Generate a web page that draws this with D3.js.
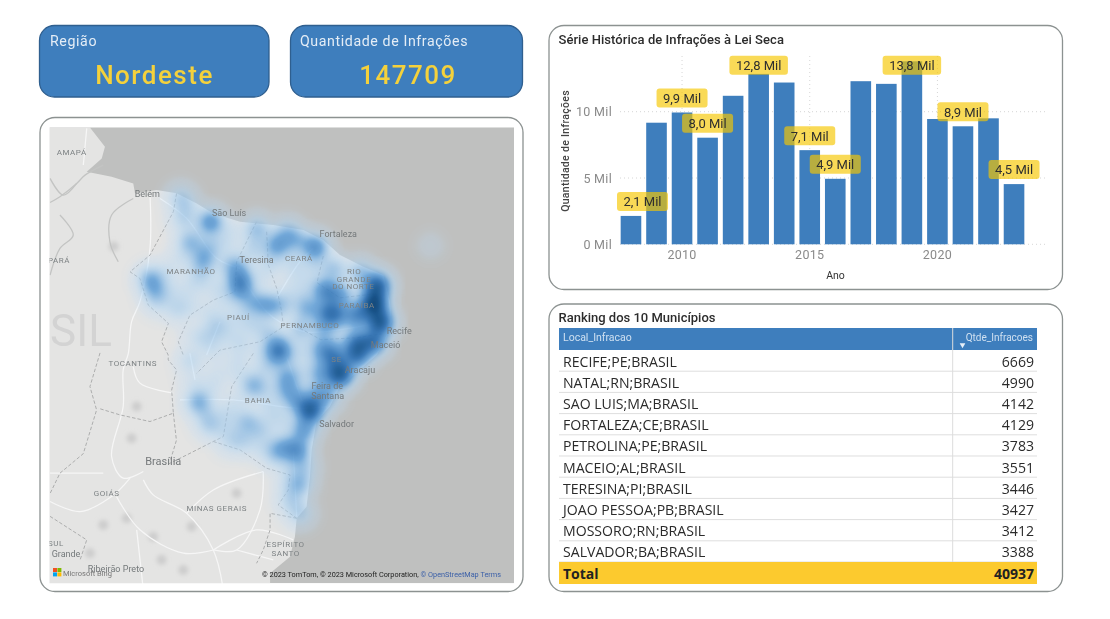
<!DOCTYPE html>
<html><head><meta charset="utf-8">
<script src="https://cdn.jsdelivr.net/npm/d3@7/dist/d3.min.js"></script>
<style>html,body{margin:0;padding:0;background:#fff;overflow:hidden}svg{display:block;filter:blur(.35px)}</style>
</head><body>
<svg id="s" width="1110" height="619"></svg>
<script>
// ---------- DATA ----------
const years=[2008,2009,2010,2011,2012,2013,2014,2015,2016,2017,2018,2019,2020,2021,2022,2023];
const infractions=[2.14,9.17,9.94,8.04,11.2,12.85,12.2,7.1,4.94,12.3,12.1,13.8,9.45,8.9,9.5,4.54];
const labelledYears=[2008,2010,2011,2013,2015,2016,2019,2021,2023];
const yTicks=[0,5,10];
const xTicks=[2010,2015,2020];
const tableHeader=["Local_Infracao","Qtde_Infracoes"];
const places=["RECIFE;PE;BRASIL","NATAL;RN;BRASIL","SAO LUIS;MA;BRASIL","FORTALEZA;CE;BRASIL","PETROLINA;PE;BRASIL","MACEIO;AL;BRASIL","TERESINA;PI;BRASIL","JOAO PESSOA;PB;BRASIL","MOSSORO;RN;BRASIL","SALVADOR;BA;BRASIL"];
const counts=[6669,4990,4142,4129,3783,3551,3446,3427,3412,3388];
const totalCount=40937;
const region="Nordeste";
const totalInfractions=147709;

// geography, [lon,lat]
const coast=[[-50.75,2.37],[-49.96,1.35],[-50.13,0.74],[-50.92,0.04],[-49.61,-0.23],[-48.47,-0.58],[-48.38,-1.1],[-47.24,-0.93],[-46.19,-1.1],[-45.13,-1.63],[-44.26,-2.16],[-42.85,-2.59],[-41.1,-2.77],[-39.52,-3.03],[-38.47,-3.56],[-37.59,-4.35],[-36.36,-4.96],[-35.31,-5.4],[-34.96,-6.8],[-34.87,-7.86],[-35.22,-8.91],[-35.66,-9.61],[-36.54,-10.39],[-37.59,-11.27],[-38.12,-12.32],[-38.82,-13.11],[-39.08,-14.6],[-39.17,-16.01],[-39.35,-17.59],[-39.87,-18.2],[-39.96,-19.16],[-40.22,-20.22],[-41.27,-21.09],[-41.27,-21.97],[-41.27,-25],[-60,-25],[-60,2.37]];
const borders=[
[[-46.19,-1.1],[-46.36,-2.07],[-47.59,-4.35],[-48.64,-5.23],[-48.12,-5.58],[-47.68,-6.98],[-46.62,-7.94],[-46.98,-8.91],[-46.63,-9.61],[-46.63,-9.87],[-46.19,-10.39],[-46.45,-11.45],[-46.36,-12.67],[-47.59,-13.11],[-49.17,-12.76],[-50.31,-12.41]],
[[-41.98,-2.59],[-43.03,-4.7],[-43.12,-6.28],[-44.26,-6.72],[-45.49,-7.51],[-46.1,-8.91],[-45.84,-9.61]],
[[-41.45,-3.12],[-41.36,-4.87],[-40.92,-6.1],[-40.66,-7.33],[-40.57,-8.12],[-41.8,-8.91],[-43.91,-9.35],[-45.13,-10.57]],
[[-42.15,-9.52],[-43.29,-11.27],[-43.73,-13.9],[-44.26,-14.16],[-45.66,-14.87],[-46.71,-15.39]],
[[-44.26,-14.16],[-42.85,-14.6],[-41.45,-15.57],[-40.22,-15.92],[-40.31,-16.71],[-40.84,-17.5],[-39.87,-18.2]],
[[-38.47,-4.4],[-38.8,-5.8],[-37.6,-6.6],[-35.8,-6.4]],
[[-39.7,-8.2],[-38.6,-8.8],[-36.7,-8.7],[-35.4,-8.5]],
[[-39.87,-18.2],[-41.27,-17.94],[-41.27,-18.81],[-41.63,-19.87],[-41.98,-20.57]],
[[-50.22,-9.5],[-50.75,-11.27],[-50.4,-12.5],[-51.1,-14.8],[-52.33,-15.83],[-52.85,-16.9]],
[[-52.85,-18.1],[-50.92,-19.34],[-51.27,-20.4]],
[[-46.36,-12.67],[-46.2,-14.1],[-46.5,-15.1]]
];
const roads=[
[[-47.59,-1.19],[-47.59,-3.98],[-48.12,-6.8],[-48.56,-7.86],[-48.73,-9.52],[-49,-10.39],[-49,-12.32],[-49.61,-14.95],[-49,-16.09],[-47.94,-15.74]],
[[-52.85,-17.32],[-51.27,-17.85],[-49.61,-17.06],[-48.64,-16.09]],
[[-47.94,-16.18],[-47.42,-16.97],[-45.66,-17.94],[-44.26,-19.87],[-43.73,-21.97]],
[[-45.66,-17.94],[-44.26,-16.71],[-41.63,-15.74]],
[[-41.63,-15.74],[-41.8,-17.76],[-43.03,-19.87],[-44.26,-19.87]],
[[-44.26,-19.87],[-45.84,-20.04],[-48.12,-18.81],[-49.35,-17.06]],
[[-48.29,-18.81],[-47.94,-21.97]],
[[-44.26,-19.87],[-41.98,-18.81],[-40.05,-19.34]],
[[-43.03,-19.87],[-41.1,-20.39]],
[[-40.05,-14.6],[-39.87,-18.11]],
[[-47.06,-1.37],[-45.66,-2.42],[-44.08,-4.52],[-42.85,-5.05]],
[[-43.03,-5.05],[-41.45,-7.33],[-40.7,-7.9],[-39.3,-8.4],[-35.5,-7.9]],
[[-39,-3.99],[-39.7,-4.7],[-40.92,-6.63]],
[[-46.01,-11.97],[-43.2,-11.97],[-39.87,-12.41],[-38.29,-12.32]],
[[-45.49,-9.52],[-45.22,-10.92]],
[[-44.61,-9.61],[-43.91,-7.86]],
[[-40.4,-9.7],[-39.5,-12.3]],
[[-48.47,-10.22],[-48.12,-11.09],[-46.36,-11.62]],
[[-52.85,-15.83],[-50.05,-15.83]],
[[-50.92,2.32],[-51.1,0.39]]
];
const waters=[
[[-52.85,-1.58],[-52.33,-1.28],[-51.45,-0.58],[-51.01,-0.14],[-50.05,0.39]],
[[-52.85,-0.31],[-52.15,-1.19],[-51.45,-0.58]],
[[-48.47,-1.37],[-49.61,-2.24],[-49.7,-3.65],[-49.26,-4.7]],
[[-52.33,-2.24],[-51.63,-3.3],[-52.33,-4],[-52.85,-5.4]]
];
const terrainLons=[-48.56,-48.29,-48.82,-47.42,-45.4,-45.84,-43.03,-50.05,-50.75,-46.98,-49.5];
const terrainLats=[-13.99,-12.32,-18.2,-19.17,-18.64,-20.92,-16.88,-18.55,-20.04,-20.39,-3.9];

// heat points: lon, lat, weight
const heatPoints=[
[-44.43,-2.59,.9],[-46.01,-1.28,.3],[-45.66,-1.72,.2],[-45.49,-3.65,.55],[-44.78,-4.52,.6],[-44.43,-3.82,.3],[-45.84,-2.42,.3],[-43.38,-3.12,.15],[-47.59,-5.58,.6],[-47.33,-6.19,.45],[-42.85,-5.58,.7],[-42.85,-6.1,.7],[-43.12,-4.87,.5],[-41.98,-2.95,.5],[-40.92,-3.82,.75],[-40.4,-3.12,.45],[-39.87,-3.56,.45],[-38.91,-3.91,.95],[-42.15,-3.96,.3],[-41.27,-4.7,.2],[-40.05,-4.7,.2],[-39,-4.88,.2],[-37.94,-5.05,.45],[-36.54,-5.23,.5],[-38.38,-6.19,.95],[-38.29,-7.33,.85],[-39.34,-7.16,.55],[-37.59,-6.45,.7],[-35.66,-5.93,1.6],[-35.84,-6.89,2],[-35.49,-7.86,1.7],[-36.71,-7.51,1],[-37.77,-7.51,.8],[-36.71,-8.91,1],[-35.84,-8.91,1.2],[-41.45,-6.98,.6],[-42.15,-6.81,.4],[-40.75,-6.98,.4],[-44.08,-8.03,.3],[-44.61,-8.73,.25],[-46.19,-7.16,.25],[-47.24,-6.8,.2],[-46.71,-5.23,.15],[-45.66,-6.1,.12],[-44.96,-5.23,.25],[-43.56,-6.63,.15],[-44.08,-6.1,.15],[-40.84,-9.26,.7],[-42.85,-8.91,.2],[-41.45,-8.38,.25],[-39.7,-8.21,.4],[-38.47,-8.21,.5],[-38.47,-9.26,.7],[-45.31,-8.56,.12],[-42.5,-7.86,.15],
[-37.59,-10.57,1.7],[-36.71,-9.6,1.2],[-37.94,-9.69,.9],[-39.17,-12.5,1.6],[-38.64,-10.57,.6],[-40.4,-10.74,.6],[-40.4,-11.45,.5],[-40.84,-9.52,.6],[-42.15,-11.18,.6],[-45.05,-12.06,.65],[-42.5,-13.11,.45],[-44.43,-13.29,.3],[-41.8,-13.55,.3],[-39.87,-14.6,.85],[-39.52,-13.55,.75],[-40.57,-14.43,.5],[-42.85,-14.08,.3],[-39.52,-15.48,.35],[-39.7,-16.36,.4],[-40.22,-17.23,.3],[-39.7,-17.94,.35],[-45.49,-9.87,.25],[-44.08,-10.57,.12],[-41.45,-10.22,.25],[-39.87,-11.97,.6],[-38.82,-11.62,.45],[-38.29,-11.8,.5],[-41.27,-12.32,.2],[-44.61,-12.85,.2],[-43.56,-12.67,.2],[-41.1,-14.6,.3],[-43.56,-13.55,.15],[-32.85,-3.82,.07],
[-46,-4.5,.13],[-45,-5.8,.13],[-46.5,-6.3,.13],[-45.5,-7,.13],[-44.5,-7.3,.13],[-43.5,-5,.13],[-43.7,-3.8,.13],[-42.5,-7,.13],[-43.2,-7.6,.13],[-43.6,-8.5,.13],[-42,-8,.13],[-41.8,-9.4,.13],[-43,-9.8,.13],[-44.2,-9.4,.13],[-40,-5.5,.13],[-39.3,-5.8,.13],[-40.2,-6.4,.13],[-39.5,-6.6,.13],[-41.6,-5.4,.13],[-43,-10.5,.13],[-44.3,-11.3,.13],[-45.3,-11,.13],[-41.5,-11.5,.13],[-43,-12,.13],[-41,-13,.13],[-40.5,-13,.13],[-43.5,-14.2,.13],[-42,-14.4,.13],[-41,-15,.13],[-40.3,-15.5,.13],[-39.9,-16.5,.13],[-40.3,-16.3,.13],[-39,-9.8,.13],[-39.5,-9.1,.13],[-37.5,-9,.13],[-41,-8.8,.13],[-40,-9.7,.13],[-39.7,-10.6,.13],[-38,-11,.13]
];
const stateLabels=[["AMAPÁ",-51.71,1.09],["PARÁ",-52.38,-4.59],["MARANHÃO",-45.43,-5.19],["CEARÁ",-39.75,-4.49],["RIO",-36.84,-5.19],["GRANDE",-36.85,-5.61],["DO NORTE",-36.89,-6.0],["PARAÍBA",-36.71,-6.98],["PIAUÍ",-42.94,-7.59],["PERNAMBUCO",-39.17,-8.03],["SE",-37.77,-9.83],["BAHIA",-41.91,-11.97],["TOCANTINS",-48.5,-10.04],["GOIÁS",-49.87,-16.88],["MINAS GERAIS",-44.08,-17.64],["ESPÍRITO",-40.45,-19.57],["SANTO",-40.45,-20.01],["SUL",-52.54,-19.48]];
const cityLabels=[["Belém",-47.73,-1.1],["São Luís",-43.43,-2.12],["Fortaleza",-37.68,-3.24],["Teresina",-41.98,-4.61],["Recife",-34.47,-8.31],["Maceió",-35.19,-9.09],["Aracaju",-36.54,-10.39],["Feira de",-38.26,-11.22],["Santana",-38.24,-11.74],["Salvador",-37.77,-13.22],["Grande",-52.01,-20.08],["Ribeirão Preto",-49.38,-20.87]];
const cityBig=[["Brasília",-46.89,-15.2]];
const countryLabel=["SIL",-52.85,-8.3];

// ---------- STYLE ----------
const BLUE="#3e7ebd",YEL="#f4d13c",PANEL="#8c9291";
const din="'Roboto','Noto Sans',sans-serif", seg="'Open Sans','Noto Sans',sans-serif";
const svg=d3.select("#s");
const defs=svg.append("defs");
defs.append("filter").attr("id","soft").append("feGaussianBlur").attr("stdDeviation",.35);
defs.append("filter").attr("id","blob").append("feGaussianBlur").attr("stdDeviation",2.2);
function panel(x,y,w,h,fill,stroke){svg.append("rect").attr("x",x).attr("y",y).attr("width",w).attr("height",h).attr("rx",15).attr("fill",fill).attr("stroke",stroke).attr("stroke-width",1.3);}

// ---------- KPI CARDS ----------
panel(39.5,25.5,229.5,71.5,BLUE,"#2f5f8f");
panel(290.5,25.5,232,71.5,BLUE,"#2f5f8f");
const kpi=[["Região",region,50,154.5],["Quantidade de Infrações",String(totalInfractions),300,408]];
kpi.forEach(k=>{
 svg.append("text").attr("x",k[2]).attr("y",46).text(k[0]).attr("fill","#e4edf6").attr("font-family",din).attr("font-size",14.2).attr("letter-spacing",.6);
 svg.append("text").attr("x",k[3]).attr("y",84).attr("text-anchor","middle").text(k[1]).attr("fill",YEL).attr("font-family",din).attr("font-size",26).attr("font-weight",500).attr("letter-spacing",1.5);
});

// ---------- MAP ----------
panel(40,117.5,483,474,"#fff",PANEL);
const M={x:49.5,y:127.3,w:464.5,h:456};
const k=19;
const proj=d3.geoEquirectangular().scale(k*180/Math.PI).translate([1054.2,172.45]);
const ln=d3.line().curve(d3.curveCatmullRom.alpha(.5));
svg.select("defs").append("clipPath").attr("id","mc").append("rect").attr("x",M.x).attr("y",M.y).attr("width",M.w).attr("height",M.h);
const map=svg.append("g").attr("clip-path","url(#mc)");
const base=map.append("g").attr("filter","url(#soft)");
base.append("rect").attr("x",M.x).attr("y",M.y).attr("width",M.w).attr("height",M.h).attr("fill","#bfc0bf");
base.append("path").attr("d",d3.line()(coast.map(proj))+"Z").attr("fill","#e4e4e3");
base.append("g").attr("filter","url(#blob)").selectAll("circle").data(terrainLons).join("circle")
 .attr("cx",(d,i)=>proj([d,terrainLats[i]])[0]).attr("cy",(d,i)=>proj([d,terrainLats[i]])[1]).attr("r",5).attr("fill","#cdcdcd");
base.append("g").selectAll("path").data(waters).join("path").attr("d",d=>ln(d.map(proj))).attr("fill","none").attr("stroke","#c3c4c3").attr("stroke-width",1.3);
base.append("g").selectAll("path").data(roads).join("path").attr("d",d=>ln(d.map(proj))).attr("fill","none").attr("stroke","#f6f6f6").attr("stroke-width",1.25);
base.append("g").selectAll("path").data(borders).join("path").attr("d",d=>d3.line()(d.map(proj))).attr("fill","none").attr("stroke","#adaeae").attr("stroke-width",1).attr("stroke-dasharray","3.5 2");
base.append("text").text(countryLabel[0]).attr("x",proj(countryLabel.slice(1))[0]).attr("y",proj(countryLabel.slice(1))[1]+16).attr("font-family",din).attr("font-size",44).attr("fill","#d3d3d3");

// heat layer: density field coloured through a d3 scale
const cv=document.createElement("canvas");cv.width=M.w|0;cv.height=M.h|0;
const W=cv.width,H=cv.height,field=new Float32Array(W*H),sigma=9,R=28;
heatPoints.forEach(p=>{
 const [px,py]=proj([p[0],p[1]]);const cx=px-M.x,cy=py-M.y;
 for(let y=Math.max(0,Math.floor(cy-R));y<Math.min(H,cy+R);y++)for(let x=Math.max(0,Math.floor(cx-R));x<Math.min(W,cx+R);x++){
  const d2=(x-cx)*(x-cx)+(y-cy)*(y-cy);field[y*W+x]+=p[2]*Math.exp(-d2/(2*sigma*sigma));
 }
});
const heatColor=d3.scaleLinear().domain([0,.04,.26,.8,1.45,2.2,3.2]).range(["rgba(190,220,248,0)","rgba(190,220,248,.25)","rgba(175,212,243,.55)","rgba(95,158,215,.85)","rgba(50,115,180,.95)","rgba(20,80,135,.98)","rgba(8,50,85,1)"]).clamp(true);
const ctx=cv.getContext("2d"),img=ctx.createImageData(W,H);
const lut=d3.range(0,801).map(i=>d3.color(heatColor(i/800*4)));
for(let i=0;i<field.length;i++){const c=lut[Math.min(800,Math.round(field[i]/4*800))];img.data[i*4]=c.r;img.data[i*4+1]=c.g;img.data[i*4+2]=c.b;img.data[i*4+3]=c.opacity*255;}
ctx.putImageData(img,0,0);
map.append("image").attr("x",M.x).attr("y",M.y).attr("width",W).attr("height",H).attr("href",cv.toDataURL());

const labs=map.append("g").attr("filter","url(#soft)");
labs.selectAll(".st").data(stateLabels).join("text").attr("class","st").text(d=>d[0]).attr("x",d=>proj([d[1],d[2]])[0]).attr("y",d=>proj([d[1],d[2]])[1]+3).attr("text-anchor","middle").attr("font-family",din).attr("font-size",8).attr("letter-spacing",.55).attr("fill","#7d8284");
labs.selectAll(".ct").data(cityLabels).join("text").attr("class","ct").text(d=>d[0]).attr("x",d=>proj([d[1],d[2]])[0]).attr("y",d=>proj([d[1],d[2]])[1]+3.2).attr("text-anchor","middle").attr("font-family",din).attr("font-size",9).attr("fill","#74797b");
labs.selectAll(".bg").data(cityBig).join("text").attr("class","bg").text(d=>d[0]).attr("x",d=>proj([d[1],d[2]])[0]).attr("y",d=>proj([d[1],d[2]])[1]+4).attr("text-anchor","middle").attr("font-family",din).attr("font-size",11).attr("fill","#75797b");
[["#f25022",53,568],["#7fba00",57.4,568],["#00a4ef",53,572.4],["#ffb900",57.4,572.4]].forEach(q=>map.append("rect").attr("x",q[1]).attr("y",q[2]).attr("width",4).attr("height",4).attr("fill",q[0]));
map.append("text").text("Microsoft Bing").attr("x",63).attr("y",575.5).attr("font-family",din).attr("font-size",7.5).attr("fill","#777");
const cr=map.append("text").attr("x",262).attr("y",577).attr("font-family",din).attr("font-size",7.3).attr("fill","#222");
cr.append("tspan").text("© 2023 TomTom, © 2023 Microsoft Corporation, ");
cr.append("tspan").text("© OpenStreetMap").attr("fill","#3a5fa8");
cr.append("tspan").text("  Terms").attr("fill","#3a5fa8");

// ---------- BAR CHART ----------
panel(549,25.5,513.5,264,"#fff",PANEL);
svg.append("text").text("Série Histórica de Infrações à Lei Seca").attr("x",558.5).attr("y",44).attr("font-family",din).attr("font-size",13).attr("font-weight",500).attr("letter-spacing",.05).attr("fill","#2c2c2c");
const x=d3.scaleBand().domain(years).range([618.2,1026.8]).paddingInner(.193).paddingOuter(.0965);
const y=d3.scaleLinear().domain([0,10]).range([244.3,111.7]);
const plot=svg.append("g");
plot.append("g").selectAll("line").data(yTicks).join("line").attr("x1",620).attr("x2",1048).attr("y1",d=>y(d)).attr("y2",d=>y(d)).attr("stroke","#d6d6d6").attr("stroke-dasharray","1 3");
plot.append("g").selectAll("line").data(xTicks).join("line").attr("x1",d=>x(d)+x.bandwidth()/2).attr("x2",d=>x(d)+x.bandwidth()/2).attr("y1",56).attr("y2",244.3).attr("stroke","#d6d6d6").attr("stroke-dasharray","1 3");
plot.append("g").selectAll("rect").data(years).join("rect").attr("x",d=>x(d)).attr("width",x.bandwidth()).attr("y",(d,i)=>y(infractions[i])).attr("height",(d,i)=>y(0)-y(infractions[i])).attr("fill",BLUE);
const yAxis=svg.append("g").attr("transform","translate(612,0)").call(d3.axisLeft(y).tickValues(yTicks).tickSize(0).tickPadding(0).tickFormat(d=>d+" Mil"));
const xAxis=svg.append("g").attr("transform","translate(0,250.5)").call(d3.axisBottom(x).tickValues(xTicks).tickSize(0).tickPadding(0));
[yAxis,xAxis].forEach(a=>{a.select(".domain").remove();a.selectAll("text").attr("font-family",din).attr("font-size",12.5).attr("fill","#8a8a8a").attr("letter-spacing",.3);});
xAxis.selectAll("text").attr("dy",".71em");
svg.append("text").text("Ano").attr("x",835.5).attr("y",279).attr("text-anchor","middle").attr("font-family",din).attr("font-size",10.5).attr("fill","#333");
svg.append("text").text("Quantidade de Infrações").attr("transform","translate(569,151) rotate(-90)").attr("text-anchor","middle").attr("font-family",din).attr("font-size",10.5).attr("font-weight",500).attr("letter-spacing",.3).attr("fill","#444");
const fmt=v=>d3.format(".1f")(v).replace(".",",")+" Mil";
const lab=svg.append("g").selectAll("g").data(labelledYears).join("g");
lab.each(function(yr){
 const v=infractions[years.indexOf(yr)],t=fmt(v),w=t.length>7?58.5:51,h=19;
 const cx=x(yr)+x.bandwidth()/2;
 const left=Math.max(617,cx-w/2),top=Math.max(55.7,y(v)-5-h);
 const g=d3.select(this);
 g.append("rect").attr("x",left).attr("y",top).attr("width",w).attr("height",h).attr("rx",3).attr("fill","#f6c700").attr("fill-opacity",.66);
 g.append("text").text(t).attr("x",left+w/2).attr("y",top+14.4).attr("text-anchor","middle").attr("font-family",din).attr("font-size",13).attr("fill","#2e2e2e");
});

// ---------- TABLE ----------
panel(549,304,513.5,287.5,"#fff",PANEL);
svg.append("text").text("Ranking dos 10 Municípios").attr("x",558.5).attr("y",322).attr("font-family",din).attr("font-size",13).attr("font-weight",500).attr("fill","#2c2c2c");
const TL=559,TR=1037,DIV=952.7;
svg.append("rect").attr("x",TL).attr("y",328).attr("width",TR-TL).attr("height",22).attr("fill",BLUE);
svg.append("text").text(tableHeader[0]).attr("x",563).attr("y",340.5).attr("font-family",din).attr("font-size",10.5).attr("fill","#cfe0f1");
svg.append("text").text(tableHeader[1]).attr("x",1033).attr("y",340.5).attr("text-anchor","end").attr("font-family",din).attr("font-size",10).attr("fill","#cfe0f1");
svg.append("path").attr("d",d3.symbol(d3.symbolTriangle,14)()).attr("transform","translate(962.5,345) rotate(180)").attr("fill","#e8f0f8");
const row=d3.scaleBand().domain(places).range([350,562]);
const rows=svg.append("g").selectAll("g").data(places).join("g").attr("transform",d=>`translate(0,${row(d)})`);
rows.append("line").attr("x1",TL).attr("x2",TR).attr("y1",row.bandwidth()).attr("y2",row.bandwidth()).attr("stroke","#dedede");
rows.append("text").text(d=>d).attr("x",563).attr("y",16.5).attr("font-family",seg).attr("font-size",14.1).attr("fill","#2b2b2b");
rows.append("text").text((d,i)=>counts[i]).attr("x",1034).attr("y",16.5).attr("text-anchor","end").attr("font-family",seg).attr("font-size",14.1).attr("fill","#2b2b2b");
svg.append("line").attr("x1",DIV).attr("x2",DIV).attr("y1",328).attr("y2",562).attr("stroke","#dcdcdc");
svg.append("rect").attr("x",TL).attr("y",562).attr("width",TR-TL).attr("height",22).attr("fill","#fcca2e");
svg.append("text").text("Total").attr("x",563).attr("y",578.5).attr("font-family",seg).attr("font-size",14).attr("font-weight",700).attr("fill","#222");
svg.append("text").text(totalCount).attr("x",1034).attr("y",578.5).attr("text-anchor","end").attr("font-family",seg).attr("font-size",14).attr("font-weight",700).attr("fill","#222");
</script>
</body></html>
